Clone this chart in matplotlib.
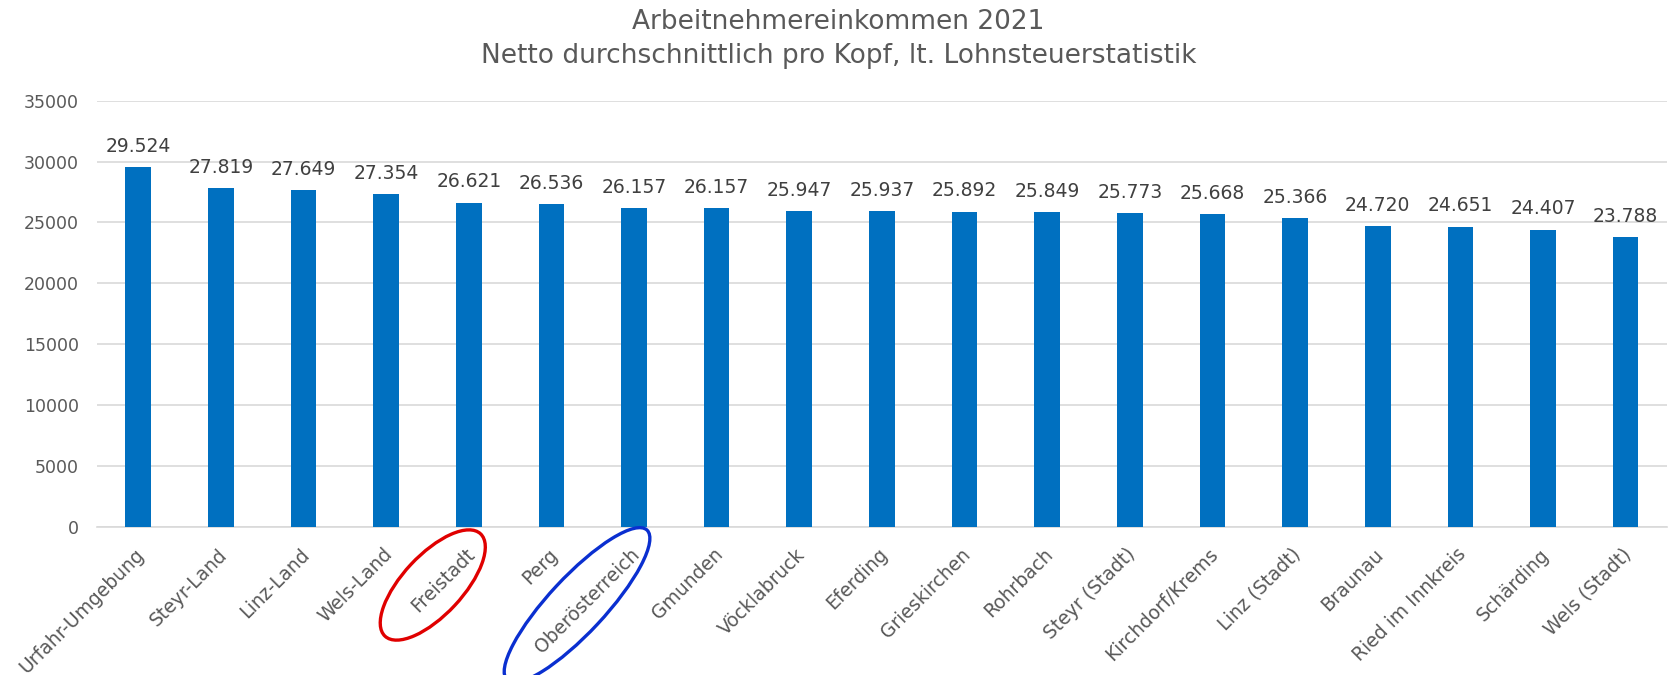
import matplotlib
matplotlib.use("Agg")
import matplotlib.pyplot as plt
import matplotlib.transforms as mtrans
from matplotlib.patches import Ellipse
from matplotlib.transforms import IdentityTransform

# data
bezirke = ["Urfahr-Umgebung", "Steyr-Land", "Linz-Land", "Wels-Land", "Freistadt",
           "Perg", "Oberösterreich", "Gmunden", "Vöcklabruck", "Eferding",
           "Grieskirchen", "Rohrbach", "Steyr (Stadt)", "Kirchdorf/Krems",
           "Linz (Stadt)", "Braunau", "Ried im Innkreis", "Schärding", "Wels (Stadt)"]
einkommen = [29524, 27819, 27649, 27354, 26621, 26536, 26157, 26157, 25947, 25937,
             25892, 25849, 25773, 25668, 25366, 24720, 24651, 24407, 23788]
y_ticks = [0, 5000, 10000, 15000, 20000, 25000, 30000, 35000]
markiert = {"Freistadt": "#E00000", "Oberösterreich": "#0A2FD0"}

plt.rcParams["font.family"] = ["DejaVu Sans"]

fig = plt.figure(figsize=(16.77, 6.75), dpi=100)
ax = fig.add_axes([0.0578, 0.2193, 0.9362, 0.6315])

x = list(range(len(bezirke)))
ax.bar(x, einkommen, width=0.31, color="#0070C0", zorder=3)

for xi, v in zip(x, einkommen):
    ax.annotate(f"{v:,}".replace(",", "."), (xi, v), xytext=(0, 11),
                textcoords="offset points", ha="center", va="baseline",
                fontsize=13.5, color="#404040")

ax.set_xlim(-0.5, len(bezirke) - 0.5)
ax.set_ylim(0, 35000)
ax.set_yticks(y_ticks)
ax.set_yticklabels([str(t) for t in y_ticks], fontsize=12.5, color="#595959")
ax.yaxis.grid(True, color="#D9D9D9", linewidth=1.2, zorder=0)
ax.tick_params(axis="y", length=0, pad=13)
ax.tick_params(axis="x", length=0, pad=4)
for s in ["top", "right", "left"]:
    ax.spines[s].set_visible(False)
ax.spines["bottom"].set_color("#D9D9D9")
ax.spines["bottom"].set_linewidth(1.2)

ax.set_xticks(x)
ax.set_xticklabels(bezirke, rotation=45, ha="right", va="center",
                   rotation_mode="anchor", fontsize=13.5, color="#595959")
off = mtrans.ScaledTranslation(3 / 100, -19 / 100, fig.dpi_scale_trans)
for lab in ax.get_xticklabels():
    lab.set_transform(lab.get_transform() + off)

fig.text(0.5, 1 - 29 / 675, "Arbeitnehmereinkommen 2021", ha="center",
         va="baseline", fontsize=19, color="#595959")
fig.text(0.5, 1 - 63 / 675, "Netto durchschnittlich pro Kopf, lt. Lohnsteuerstatistik",
         ha="center", va="baseline", fontsize=19, color="#595959")

# ellipses around highlighted labels
fig.canvas.draw()
H = fig.bbox.height
ell_geo = {"Freistadt": (-36, 585, 140, 60), "Oberösterreich": (-57, 605, 205, 56)}
for name, farbe in markiert.items():
    i = bezirke.index(name)
    dx, ymid, w, h = ell_geo[name]
    px, _ = ax.transData.transform((i, 0))
    e = Ellipse((px + dx, H - ymid), w, h, angle=47, fill=False,
                edgecolor=farbe, linewidth=2.4, transform=IdentityTransform())
    fig.patches.append(e)
    e.set_figure(fig)

fig.savefig("out.png", dpi=100)
